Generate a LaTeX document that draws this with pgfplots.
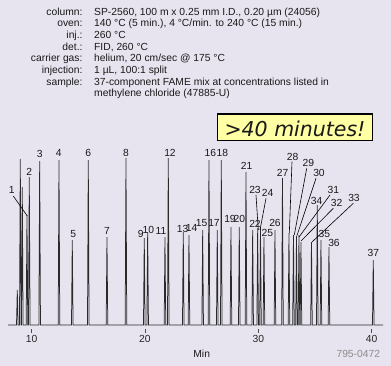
\documentclass[border=0pt]{standalone}
\usepackage{pgfplots}
\pgfplotsset{compat=1.18}
\usepackage{fontspec}
\setmainfont{Liberation Sans}
\newfontfamily\boxfont{DejaVu Sans}
\definecolor{bg}{HTML}{E7E4EF}
\definecolor{boxyellow}{HTML}{FFFFA3}
\definecolor{trace}{HTML}{2A2A2A}
\pgfplotstableread{
t h
7.91 0
8.66 0
8.729 35
8.80 0
8.924 0
8.994 166
9.064 0
9.100 0
9.170 138
9.240 0
9.515 0
9.585 110
9.655 0
9.718 0
9.788 148
9.858 0
10.636 0
10.706 164
10.776 0
12.340 0
12.410 165
12.480 0
13.513 0
13.583 85
13.653 0
14.926 0
14.996 165
15.066 0
16.576 0
16.646 88
16.716 0
18.253 0
18.323 167
18.393 0
19.868 0
19.938 87
20.008 0
20.168 0
20.238 93
20.308 0
21.695 0
21.765 88
21.835 0
21.987 0
22.057 167
22.127 0
23.310 0
23.380 93
23.450 0
23.813 0
23.883 90
23.953 0
25.023 0
25.093 95
25.163 0
25.579 0
25.649 165
25.719 0
26.311 0
26.381 95
26.451 0
26.665 0
26.735 165
26.805 0
27.521 0
27.591 98
27.661 0
28.253 0
28.323 98
28.393 0
28.845 0
28.915 153
28.985 0
29.436 0
29.506 95
29.576 0
29.877 0
29.947 97
30.017 0
30.124 0
30.194 97
30.264 0
30.433 0
30.503 88
30.573 0
31.404 0
31.474 95
31.544 0
32.066 0
32.136 147
32.206 0
32.640 0
32.710 92
32.780 0
33.037 0
33.107 90
33.177 0
33.302 0
33.372 88
33.442 0
33.522 0
33.592 90
33.662 0
33.699 0
33.769 83
33.839 0
34.626 0
34.696 83
34.766 0
35.138 0
35.208 120
35.278 0
35.464 0
35.534 85
35.604 0
36.170 0
36.240 78
36.310 0
40.080 0
40.150 65
40.220 0
41.01 0
}\chrom
\begin{document}
\begin{tikzpicture}
\fill[bg] (0,0) rectangle (391bp,-366bp);
\begin{axis}[
  at={(8bp,-329bp)}, anchor=south west,
  scale only axis, width=375bp, height=200bp,
  xmin=7.91, xmax=41.01, ymin=-4, ymax=196,
  axis x line*=bottom, axis y line=none,
  x axis line style={draw=none},
  xtick={10,20,30,40},
  tick align=outside, major tick length=4bp,
  xtick style={black!70, line width=0.6bp},
  xticklabel style={font=\fontsize{10.3bp}{12bp}\selectfont, text=black!85, yshift=1bp},
  /pgf/number format/assume math mode=true,
  clip=false]
\addplot[trace, line width=0.75bp] table[x=t, y=h] {\chrom};
\end{axis}
\begin{scope}[x=1bp, y=-1bp, every node/.style={font=\fontsize{10.3bp}{12bp}\selectfont, inner sep=0pt, text=black!90}]
% header
\foreach \lab/\val [count=\i from 0] in {
  column:/{SP-2560, 100 m x 0.25 mm I.D., 0.20 µm (24056)},
  oven:/{140 °C (5 min.), 4 °C/min. to 240 °C (15 min.)},
  inj.:/{260 °C},
  det.:/{FID, 260 °C},
  carrier gas:/{helium, 20 cm/sec @ 175 °C},
  injection:/{1 µL, 100:1 split},
  sample:/{37-component FAME mix at concentrations listed in}}{
  \node[anchor=base east] at (82.7, 15+11.67*\i) {\lab};
  \node[anchor=base west] at (94, 15+11.67*\i) {\val};
}
\node[anchor=base west] at (94, 96.7) {methylene chloride (47885-U)};
% yellow box
\draw[fill=boxyellow, line width=1.3bp] (217.3,114) rectangle (372.7,140.7);
\node[font=\boxfont\itshape\fontsize{20.5bp}{22bp}\selectfont, anchor=base] at (295,136.5) {>40 minutes!};
% peak labels
\node at (11.7,190) {1};
\draw[line width=0.6bp] (13.3,196) -- (27.3,216);
\node at (29.3,172.3) {2};
\node at (39.7,154) {3};
\node at (58.7,153.3) {4};
\node at (73.3,234) {5};
\node at (88.3,153.3) {6};
\node at (107,230.7) {7};
\node at (126,152.7) {8};
\node at (140.7,234) {9};
\node at (148.3,230) {10};
\node at (161,230.7) {11};
\node at (170,152.7) {12};
\node at (182.7,229) {13};
\node at (191.7,228.3) {14};
\node at (201.7,222.7) {15};
\node at (210.3,153.3) {16};
\node at (214,222.7) {17};
\node at (222.3,153.3) {18};
\node at (230,219.3) {19};
\node at (239.3,219.3) {20};
\node at (246.7,166) {21};
\node at (255,224.3) {22};
\node at (255,190) {23};
\draw[line width=0.6bp] (256,195) -- (258.3,230);
\node at (267.7,193.3) {24};
\draw[line width=0.6bp] (266,198.3) -- (260,230);
\node at (267.3,233.3) {25};
\node at (275,222.7) {26};
\node at (282.7,173.3) {27};
\node at (292.7,156.7) {28};
\draw[line width=0.6bp] (292,161.7) -- (289.3,233.3);
\node at (308.3,162.7) {29};
\draw[line width=0.6bp] (306.7,168.3) -- (294.3,235);
\node at (319,173.3) {30};
\draw[line width=0.6bp] (316,178.3) -- (296.5,237);
\node at (333.3,190) {31};
\draw[line width=0.6bp] (330,195) -- (299,237);
\node at (336.7,203.3) {32};
\draw[line width=0.6bp] (333.3,208.3) -- (301,241);
\node at (354,198.3) {33};
\draw[line width=0.6bp] (353.3,203.3) -- (312,242);
\node at (316.7,200.7) {34};
\node at (324.3,234.3) {35};
\node at (334,242.5) {36};
\node at (373.3,253.3) {37};
% axis title and code
\node[anchor=base] at (201.7,357.6) {Min};
\node[anchor=base, text=black!45] at (358.3,357.6) {795-0472};
\end{scope}
\end{tikzpicture}
\end{document}
